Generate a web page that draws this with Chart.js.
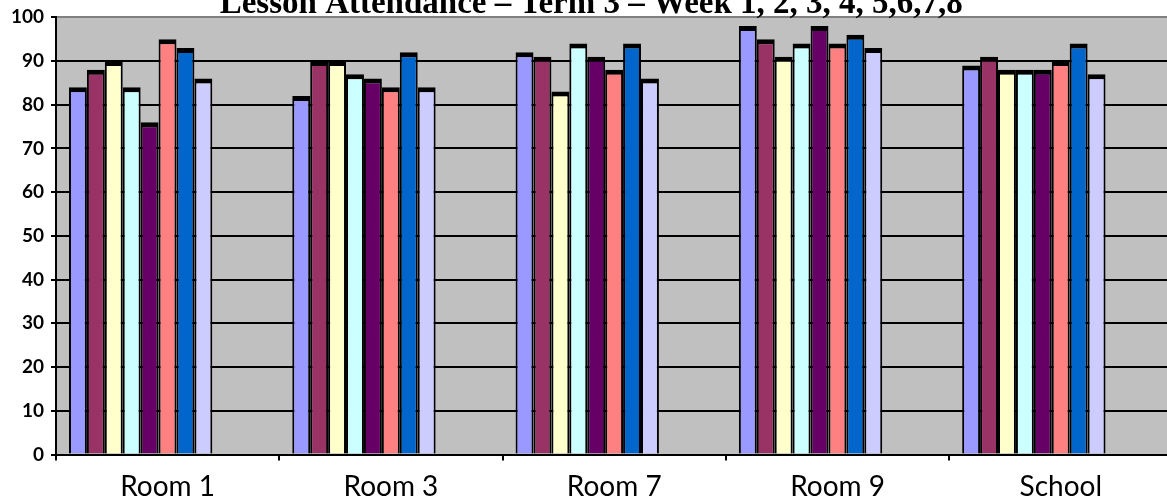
<!DOCTYPE html>
<html>
<head>
<meta charset="utf-8">
<script src="https://cdn.jsdelivr.net/npm/chart.js@4/dist/chart.umd.min.js"></script>
<style>
  html, body { margin: 0; padding: 0; background: #ffffff; overflow: hidden; width: 1167px; height: 504px; }
  #wrap { position: absolute; left: 0; top: -20px; width: 1180px; height: 524px; }
  canvas { display: block; }
</style>
</head>
<body>
<div id="wrap"><canvas id="c" width="1180" height="524"></canvas></div>
<script>
const categories = ['Room 1', 'Room 3', 'Room 7', 'Room 9', 'School'];
const seriesNames = ['Week 1', 'Week 2', 'Week 3', 'Week 4', 'Week 5', 'Week 6', 'Week 7', 'Week 8'];
const week1 = [84, 82, 92, 98, 89];
const week2 = [88, 90, 91, 95, 91];
const week3 = [90, 90, 83, 91, 88];
const week4 = [84, 87, 94, 94, 88];
const week5 = [76, 86, 91, 98, 88];
const week6 = [95, 84, 88, 94, 90];
const week7 = [93, 92, 94, 96, 94];
const week8 = [86, 84, 86, 93, 87];
const yTicks = [0, 10, 20, 30, 40, 50, 60, 70, 80, 90, 100];
const titleText = 'Lesson Attendance \u2013 Term 3 \u2013 Week 1, 2, 3, 4, 5,6,7,8';

const seriesValues = [week1, week2, week3, week4, week5, week6, week7, week8];
const colors = ['#9999FF', '#993366', '#FFFFCC', '#CCFFFF', '#660066', '#FF8080', '#0066CC', '#CCCCFF'];

const plotBg = {
  id: 'plotBg',
  beforeDraw(chart) {
    const { ctx, chartArea: a } = chart;
    ctx.save();
    ctx.fillStyle = '#C0C0C0';
    ctx.fillRect(a.left, a.top, a.right - a.left, a.bottom - a.top);
    ctx.restore();
  }
};
// 3D-like depth shift of the column clusters relative to the category labels
const depthShift = {
  id: 'depthShift',
  beforeDatasetsDraw(chart) { chart.ctx.save(); chart.ctx.translate(-27, 0); },
  afterDatasetsDraw(chart) { chart.ctx.restore(); }
};

new Chart(document.getElementById('c'), {
  type: 'bar',
  data: {
    labels: categories,
    datasets: seriesValues.map((vals, i) => ({
      label: seriesNames[i],
      data: vals,
      backgroundColor: colors[i],
      borderColor: '#000000',
      borderWidth: { top: 5, left: 2, right: 2, bottom: 0 },
      borderSkipped: 'bottom',
      categoryPercentage: 0.642,
      barPercentage: 1.0
    }))
  },
  options: {
    responsive: false,
    devicePixelRatio: 1,
    animation: false,
    layout: { padding: { left: 10, right: 7.5, top: 0, bottom: 0 } },
    plugins: {
      legend: { display: false },
      tooltip: { enabled: false },
      title: {
        display: true,
        text: titleText,
        color: '#000000',
        font: { family: 'Liberation Serif', size: 33, weight: 'bold', lineHeight: 0.9 },
        padding: { top: 10, bottom: -2.4 }
      }
    },
    scales: {
      x: {
        type: 'category',
        grid: { display: true, drawOnChartArea: false, drawTicks: true, tickLength: 6, color: '#000000', tickColor: '#000000', lineWidth: 2, offset: true },
        border: { display: true, color: '#000000', width: 2 },
        ticks: { color: '#000000', font: { family: 'Lato', size: 28 }, padding: 10, maxRotation: 0, autoSkip: false },
        afterFit(scale) { scale.height = 49.5; }
      },
      y: {
        min: 0,
        max: 100,
        afterBuildTicks(scale) { scale.ticks = yTicks.map(v => ({ value: v })); },
        grid: {
          color: (ctx) => (ctx.tick && ctx.tick.value === 100 ? '#808080' : '#000000'),
          tickColor: '#000000',
          lineWidth: 2,
          tickLength: 5,
          drawTicks: true
        },
        border: { display: true, color: '#000000', width: 2 },
        ticks: { color: '#000000', font: { family: 'Lato', size: 19, weight: 'bold' }, padding: 7 },
        afterFit(scale) { scale.width = 46; }
      }
    }
  },
  plugins: [plotBg, depthShift]
});
</script>
</body>
</html>
